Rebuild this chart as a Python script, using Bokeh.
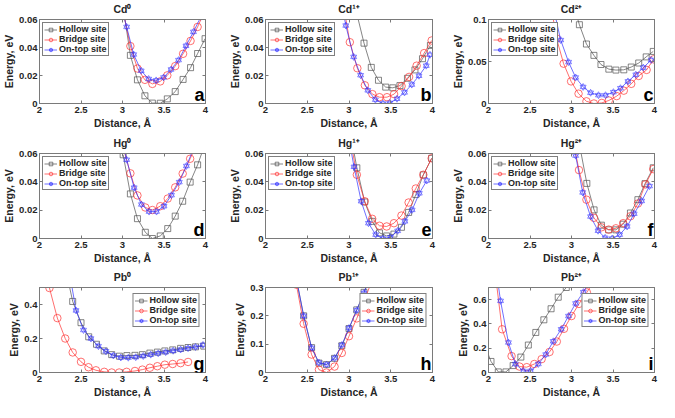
from bokeh.plotting import figure
from bokeh.layouts import gridplot
from bokeh.models import (Range1d, FixedTicker, CustomJSTickFormatter, Legend, LegendItem,
                          Label, LinearAxis, CustomLabelingPolicy)
from bokeh.embed import file_html
from bokeh.resources import INLINE

FONT = "Liberation Sans"

# ---------------- data ----------------
series_labels = ["Hollow site", "Bridge site", "On-top site"]
titles = ["Cd⁰", "Cd¹⁺", "Cd²⁺", "Hg⁰", "Hg¹⁺", "Hg²⁺", "Pb⁰", "Pb¹⁺", "Pb²⁺"]
letters = ["a", "b", "c", "d", "e", "f", "g", "h", "i"]
x_ticks = [2, 2.5, 3, 3.5, 4]
y_max = [0.06, 0.06, 0.1, 0.06, 0.06, 0.06, 0.5, 0.3, 0.7]
y_ticks = [
    [0, 0.02, 0.04, 0.06], [0, 0.02, 0.04, 0.06], [0, 0.05, 0.1],
    [0, 0.02, 0.04, 0.06], [0, 0.02, 0.04, 0.06], [0, 0.02, 0.04, 0.06],
    [0, 0.2, 0.4], [0, 0.1, 0.2, 0.3], [0, 0.2, 0.4, 0.6],
]

# (a) Cd0
a_hollow_x = [3.00, 3.095, 3.18, 3.27, 3.36, 3.455, 3.54, 3.635, 3.73, 3.82, 3.905, 3.995]
a_hollow_y = [0.072, 0.0344, 0.0169, 0.0055, 0.0003, 0.0002, 0.0033, 0.0085, 0.0172, 0.0256, 0.0357, 0.0463]
a_bridge_x = [3.0, 3.095, 3.18, 3.27, 3.36, 3.455, 3.54, 3.635, 3.73, 3.82, 3.905, 3.99]
a_bridge_y = [0.068, 0.041, 0.025, 0.0169, 0.014, 0.0158, 0.0201, 0.0267, 0.0355, 0.0447, 0.0547, 0.066]
a_ontop_x = [2.96, 3.05, 3.135, 3.225, 3.315, 3.405, 3.495, 3.585, 3.675, 3.765, 3.855, 3.945]
a_ontop_y = [0.075, 0.0547, 0.035, 0.0234, 0.0175, 0.0165, 0.0186, 0.0243, 0.031, 0.0412, 0.0512, 0.062]

# (b) Cd1+
b_hollow_x = [3.09, 3.18, 3.267, 3.353, 3.44, 3.525, 3.61, 3.70, 3.79, 3.88, 3.975]
b_hollow_y = [0.065, 0.0431, 0.0258, 0.0166, 0.0117, 0.0112, 0.0128, 0.018, 0.024, 0.032, 0.0415]
b_bridge_x = [2.92, 3.01, 3.10, 3.19, 3.28, 3.365, 3.455, 3.54, 3.63, 3.72, 3.81, 3.90, 3.99]
b_bridge_y = [0.075, 0.0438, 0.0252, 0.013, 0.0067, 0.0045, 0.0045, 0.0067, 0.0124, 0.019, 0.027, 0.036, 0.045]
b_ontop_x = [2.87, 2.962, 3.056, 3.139, 3.226, 3.316, 3.406, 3.489, 3.575, 3.665, 3.752, 3.838, 3.925, 3.97]
b_ontop_y = [0.085, 0.0557, 0.0333, 0.0202, 0.0094, 0.0027, 0.0, 0.0004, 0.0034, 0.0079, 0.0135, 0.0198, 0.027, 0.0348]

# (c) Cd2+
c_hollow_x = [3.0, 3.095, 3.18, 3.27, 3.355, 3.45, 3.535, 3.63, 3.72, 3.81, 3.90, 3.985]
c_hollow_y = [0.125, 0.0938, 0.0708, 0.0573, 0.0464, 0.0409, 0.0398, 0.0401, 0.0434, 0.0482, 0.0555, 0.062]
c_bridge_x = [2.73, 2.82, 2.905, 2.995, 3.085, 3.18, 3.27, 3.365, 3.45, 3.545, 3.63, 3.72, 3.81, 3.905, 3.99]
c_bridge_y = [0.13, 0.0774, 0.0474, 0.0263, 0.0117, 0.0026, 0.0, 0.0007, 0.0036, 0.0088, 0.0153, 0.0234, 0.0328, 0.040, 0.0526]
c_ontop_x = [2.78, 2.87, 2.965, 3.05, 3.14, 3.23, 3.325, 3.41, 3.505, 3.59, 3.68, 3.775, 3.865, 3.96]
c_ontop_y = [0.115, 0.0755, 0.0493, 0.031, 0.0197, 0.0128, 0.0099, 0.0099, 0.0135, 0.0182, 0.0263, 0.0343, 0.0427, 0.0518]

# (d) Hg0
d_hollow_x = [3.008, 3.095, 3.18, 3.275, 3.36, 3.455, 3.545, 3.635, 3.725, 3.815, 3.905, 3.99]
d_hollow_y = [0.0591, 0.0315, 0.014, 0.0044, 0.0, 0.0018, 0.007, 0.0158, 0.0263, 0.0398, 0.052, 0.066]
d_bridge_x = [3.0, 3.095, 3.18, 3.275, 3.36, 3.455, 3.545, 3.635, 3.725, 3.815, 3.905]
d_bridge_y = [0.066, 0.046, 0.0304, 0.0219, 0.0201, 0.0228, 0.0282, 0.0361, 0.0458, 0.0563, 0.068]
d_ontop_x = [2.96, 3.05, 3.14, 3.228, 3.32, 3.41, 3.50, 3.59, 3.684, 3.77, 3.86]
d_ontop_y = [0.078, 0.0556, 0.0359, 0.024, 0.019, 0.019, 0.0228, 0.0306, 0.0398, 0.0512, 0.064]

# (e) Hg1+
e_hollow_x = [3.0, 3.094, 3.188, 3.278, 3.365, 3.451, 3.538, 3.628, 3.714, 3.80, 3.89, 3.99]
e_hollow_y = [0.08, 0.0499, 0.0258, 0.0121, 0.004, 0.0018, 0.0031, 0.0079, 0.0184, 0.031, 0.0449, 0.0566]
e_bridge_x = [3.0, 3.094, 3.188, 3.278, 3.365, 3.451, 3.538, 3.628, 3.714, 3.80, 3.89, 3.99]
e_bridge_y = [0.075, 0.045, 0.0263, 0.0139, 0.009, 0.0085, 0.0108, 0.0162, 0.0254, 0.0353, 0.045, 0.0566]
e_ontop_x = [2.97, 3.06, 3.146, 3.233, 3.32, 3.406, 3.496, 3.583, 3.669, 3.756, 3.842, 3.932]
e_ontop_y = [0.08, 0.0506, 0.0263, 0.0108, 0.0027, 0.0, 0.0009, 0.0054, 0.0121, 0.0202, 0.0319, 0.0409]

# (f) Hg2+
f_hollow_x = [3.097, 3.185, 3.272, 3.36, 3.448, 3.535, 3.623, 3.71, 3.80, 3.886, 3.985]
f_hollow_y = [0.066, 0.0389, 0.0202, 0.0094, 0.0061, 0.0061, 0.0101, 0.018, 0.0274, 0.0387, 0.0499]
f_bridge_x = [3.0, 3.09, 3.18, 3.27, 3.36, 3.448, 3.535, 3.623, 3.71, 3.80, 3.89, 3.985]
f_bridge_y = [0.075, 0.0483, 0.0274, 0.0146, 0.0079, 0.0063, 0.0072, 0.0108, 0.0157, 0.0247, 0.0382, 0.049]
f_ontop_x = [2.96, 3.05, 3.135, 3.23, 3.32, 3.405, 3.49, 3.58, 3.67, 3.755, 3.845, 3.94]
f_ontop_y = [0.09, 0.0585, 0.0325, 0.0155, 0.0055, 0.0005, 0.0, 0.0027, 0.0085, 0.0175, 0.0265, 0.037]

# (g) Pb0
g_hollow_x = [2.31, 2.40, 2.50, 2.593, 2.687, 2.78, 2.87, 2.963, 3.053, 3.15, 3.24, 3.33, 3.42, 3.51, 3.605, 3.70, 3.79, 3.88, 3.98]
g_hollow_y = [0.62, 0.418, 0.293, 0.21, 0.166, 0.127, 0.105, 0.096, 0.0995, 0.101, 0.105, 0.114, 0.12, 0.127, 0.133, 0.142, 0.147, 0.151, 0.155]
g_bridge_x = [2.12, 2.215, 2.31, 2.40, 2.50, 2.59, 2.68, 2.78, 2.87, 2.96, 3.05, 3.15, 3.24, 3.33, 3.42, 3.51, 3.605, 3.70, 3.79]
g_bridge_y = [0.497, 0.32, 0.2, 0.118, 0.0627, 0.031, 0.013, 0.004, 0.0, 0.0, 0.004, 0.009, 0.017, 0.028, 0.037, 0.046, 0.05, 0.055, 0.062]
g_ontop_x = [2.35, 2.44, 2.53, 2.62, 2.71, 2.80, 2.89, 2.98, 3.07, 3.16, 3.25, 3.34, 3.43, 3.52, 3.61, 3.70, 3.79, 3.88, 3.97]
g_ontop_y = [0.62, 0.365, 0.25, 0.2, 0.155, 0.125, 0.1, 0.088, 0.087, 0.09, 0.097, 0.105, 0.113, 0.12, 0.128, 0.135, 0.143, 0.15, 0.162]

# (h) Pb1+
h_hollow_x = [2.37, 2.457, 2.552, 2.64, 2.731, 2.827, 2.914, 3.0, 3.093, 3.18, 3.27]
h_hollow_y = [0.33, 0.2, 0.0878, 0.0333, 0.0278, 0.05, 0.0944, 0.155, 0.221, 0.283, 0.35]
h_bridge_x = [2.37, 2.457, 2.552, 2.64, 2.731, 2.827, 2.914, 3.0, 3.093, 3.18, 3.27]
h_bridge_y = [0.31, 0.172, 0.0633, 0.01, 0.0, 0.021, 0.069, 0.128, 0.191, 0.252, 0.32]
h_ontop_x = [2.37, 2.457, 2.552, 2.64, 2.731, 2.827, 2.914, 3.0, 3.093, 3.18, 3.27]
h_ontop_y = [0.33, 0.2, 0.087, 0.035, 0.028, 0.051, 0.097, 0.157, 0.22, 0.281, 0.35]

# (i) Pb2+
i_hollow_x = [1.94, 2.03, 2.118, 2.21, 2.297, 2.39, 2.48, 2.57, 2.667, 2.754, 2.84, 2.937]
i_hollow_y = [0.25, 0.091, 0.005, 0.005, 0.057, 0.127, 0.226, 0.33, 0.434, 0.525, 0.62, 0.70]
i_bridge_x = [2.07, 2.164, 2.278, 2.373, 2.461, 2.552, 2.64, 2.735, 2.823, 2.91, 3.0, 3.09, 3.185, 3.27]
i_bridge_y = [0.88, 0.356, 0.135, 0.049, 0.044, 0.07, 0.11, 0.169, 0.255, 0.36, 0.465, 0.565, 0.66, 0.75]
i_ontop_x = [2.06, 2.145, 2.24, 2.324, 2.42, 2.507, 2.60, 2.69, 2.78, 2.876, 2.964, 3.05, 3.143, 3.23]
i_ontop_y = [1.0, 0.59, 0.247, 0.07, 0.013, 0.013, 0.07, 0.148, 0.257, 0.356, 0.465, 0.569, 0.662, 0.76]

panel_data = [
    [(a_hollow_x, a_hollow_y), (a_bridge_x, a_bridge_y), (a_ontop_x, a_ontop_y)],
    [(b_hollow_x, b_hollow_y), (b_bridge_x, b_bridge_y), (b_ontop_x, b_ontop_y)],
    [(c_hollow_x, c_hollow_y), (c_bridge_x, c_bridge_y), (c_ontop_x, c_ontop_y)],
    [(d_hollow_x, d_hollow_y), (d_bridge_x, d_bridge_y), (d_ontop_x, d_ontop_y)],
    [(e_hollow_x, e_hollow_y), (e_bridge_x, e_bridge_y), (e_ontop_x, e_ontop_y)],
    [(f_hollow_x, f_hollow_y), (f_bridge_x, f_bridge_y), (f_ontop_x, f_ontop_y)],
    [(g_hollow_x, g_hollow_y), (g_bridge_x, g_bridge_y), (g_ontop_x, g_ontop_y)],
    [(h_hollow_x, h_hollow_y), (h_bridge_x, h_bridge_y), (h_ontop_x, h_ontop_y)],
    [(i_hollow_x, i_hollow_y), (i_bridge_x, i_bridge_y), (i_ontop_x, i_ontop_y)],
]

# ---------------- layout / style ----------------
COL_W = [226, 223, 210]
COL_L = [33, 33, 35]
COL_R = [21, 17, 3]
ROW_H = [134, 134, 134]
ROW_T = [15, 16, 16]
ROW_B = [31, 30, 30]

GRAY = "#505050"
RED = "#ff3030"
BLUE = "#3030ff"
AXIS_C = "#7a7a7a"
TEXT_C = "#262626"


def style_axis(ax):
    ax.axis_line_color = AXIS_C
    ax.major_tick_line_color = AXIS_C
    ax.minor_tick_line_color = None
    ax.major_tick_in = 3
    ax.major_tick_out = 0


def make_panel(k):
    r, c = divmod(k, 3)
    p = figure(
        width=COL_W[c], height=ROW_H[r],
        min_border_left=COL_L[c], min_border_right=COL_R[c],
        min_border_top=ROW_T[r], min_border_bottom=ROW_B[r],
        x_range=Range1d(2, 4), y_range=Range1d(0, y_max[k]),
        output_backend="svg", toolbar_location=None,
    )
    p.title.text = titles[k]
    p.title.align = "center"
    p.title.text_font = FONT
    p.title.text_font_size = "10.5px"
    p.title.text_font_style = "bold"
    p.title.text_color = TEXT_C
    p.title.standoff = 1
    p.title.offset = 0

    p.xgrid.visible = False
    p.ygrid.visible = False
    p.outline_line_color = AXIS_C
    p.outline_line_width = 1

    fmt = CustomJSTickFormatter(code="return String(tick);")
    p.xaxis.ticker = FixedTicker(ticks=x_ticks)
    p.yaxis.ticker = FixedTicker(ticks=y_ticks[k])
    for ax in (p.xaxis[0], p.yaxis[0]):
        ax.formatter = fmt
        style_axis(ax)
        ax.major_label_text_font = FONT
        ax.major_label_text_font_size = "9.5px"
        ax.major_label_text_font_style = "bold"
        ax.major_label_text_color = TEXT_C
        ax.axis_label_text_font = FONT
        ax.axis_label_text_font_size = "10.5px"
        ax.axis_label_text_font_style = "bold"
        ax.axis_label_text_color = TEXT_C
    p.xaxis.axis_label = "Distance, Å"
    p.yaxis.axis_label = "Energy, eV"
    p.xaxis.major_label_standoff = 3
    p.xaxis.axis_label_standoff = 1
    p.yaxis.major_label_standoff = 2
    p.yaxis.axis_label_standoff = 1

    # box ticks on the top and right edges; the labelling policy keeps no labels
    for side, ticks in (("above", x_ticks), ("right", y_ticks[k])):
        ax = LinearAxis(ticker=FixedTicker(ticks=ticks),
                        major_label_policy=CustomLabelingPolicy(code="return new Set();"),
                        major_label_text_font_size="1px", major_label_standoff=0)
        style_axis(ax)
        p.add_layout(ax, side)

    (hx, hy), (bx, by), (ox, oy) = panel_data[k]
    lw = 0.7
    l1 = p.line(hx, hy, line_color=GRAY, line_width=lw)
    m1 = p.scatter(hx, hy, marker="square", size=6, line_color=GRAY, fill_color=None, line_width=lw)
    l2 = p.line(bx, by, line_color=RED, line_width=lw)
    m2 = p.scatter(bx, by, marker="circle", size=7.5, line_color=RED, fill_color=None, line_width=lw)
    l3 = p.line(ox, oy, line_color=BLUE, line_width=lw)
    m3a = p.scatter(ox, oy, marker="triangle", size=6, line_color=BLUE, fill_color=None, line_width=0.55)
    m3b = p.scatter(ox, oy, marker="inverted_triangle", size=6, line_color=BLUE, fill_color=None, line_width=0.55)

    legend = Legend(items=[
        LegendItem(label=series_labels[0], renderers=[l1, m1]),
        LegendItem(label=series_labels[1], renderers=[l2, m2]),
        LegendItem(label=series_labels[2], renderers=[l3, m3a, m3b]),
    ])
    legend.location = "top_left" if r < 2 else "top_right"
    legend.margin = 3 if r < 2 else 6
    legend.padding = 1
    legend.spacing = 0
    legend.glyph_width = 13
    legend.glyph_height = 9
    legend.label_height = 9
    legend.label_standoff = 2
    legend.label_text_font = FONT
    legend.label_text_font_size = "9px"
    legend.label_text_font_style = "bold"
    legend.label_text_color = TEXT_C
    legend.border_line_color = "black"
    legend.border_line_width = 0.8
    legend.background_fill_color = "white"
    legend.background_fill_alpha = 1.0
    p.add_layout(legend, "center")

    p.add_layout(Label(
        x=p.x_range.end, y=p.y_range.start, text=letters[k],
        x_offset=-1, y_offset=9,
        text_align="right", text_baseline="alphabetic",
        text_font=FONT, text_font_size="18px", text_font_style="bold",
        text_color="black",
    ))
    return p


panels = [make_panel(k) for k in range(9)]
grid = gridplot([panels[0:3], panels[3:6], panels[6:9]], toolbar_location=None)

open("out.html", "w").write(file_html(grid, INLINE))
